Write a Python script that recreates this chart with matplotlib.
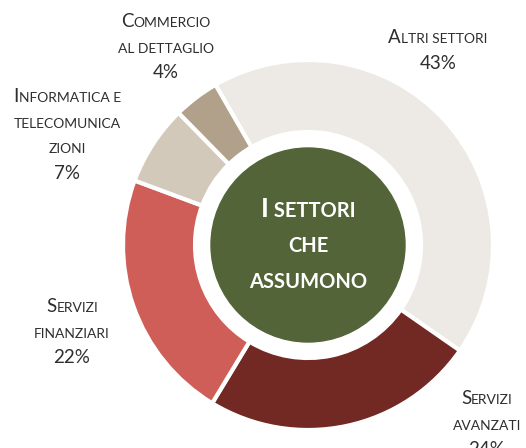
import matplotlib
matplotlib.use("Agg")
import matplotlib.pyplot as plt
from matplotlib.patches import Circle

# data
sectors = ["Altri settori", "Servizi avanzati", "Servizi finanziari",
           "Informatica e telecomunicazioni", "Commercio al dettaglio"]
shares = [43, 24, 22, 7, 4]
colors = ["#EDEAE5", "#722823", "#CF5E58", "#D3C9BA", "#B2A18A"]

# label lines as small caps: each line is a list of (text, big?) pieces
label_lines = [
    [[("A", True), ("LTRI SETTORI", False)]],
    [[("S", True), ("ERVIZI", False)], [("AVANZATI", False)]],
    [[("S", True), ("ERVIZI", False)], [("FINANZIARI", False)]],
    [[("I", True), ("NFORMATICA E", False)], [("TELECOMUNICA", False)], [("ZIONI", False)]],
    [[("C", True), ("OMMERCIO", False)], [("AL DETTAGLIO", False)]],
]
# label anchor (center x, first baseline y) in pixels from top-left
label_pos = [(438, 43), (487, 404), (72, 312), (67, 102), (166, 27)]

W, H = 526, 448
FONT = "Lato"
TXT = "#2E2E2E"

fig = plt.figure(figsize=(W / 100, H / 100), dpi=100)
ax = fig.add_axes([0, 0, 1, 1])

cx, cy = 308, H - 245
ax.pie(shares, colors=colors, startangle=120, counterclock=False,
       center=(cx, cy), radius=185,
       wedgeprops=dict(width=72, edgecolor="white", linewidth=3))
ax.add_patch(Circle((cx, cy), 97, color="#536438", zorder=3))

ax.set_xlim(0, W)
ax.set_ylim(0, H)
ax.set_aspect("equal")
ax.axis("off")

renderer = fig.canvas.get_renderer()


def smallcaps(x, y, pieces, big, small, color, weight="normal"):
    """Draw a line of fake small caps centred on x with its baseline at y."""
    arts = []
    for s, is_big in pieces:
        t = ax.text(0, y, s, fontsize=big if is_big else small, family=FONT,
                    color=color, weight=weight, ha="left", va="baseline", zorder=5)
        arts.append(t)
    widths = [a.get_window_extent(renderer).width for a in arts]
    left = x - sum(widths) / 2
    for a, w in zip(arts, widths):
        a.set_x(left)
        left += w


step = 25.5
for lines, (lx, ly), pct in zip(label_lines, label_pos, shares):
    for i, pieces in enumerate(lines):
        smallcaps(lx, H - (ly + i * step), pieces, 13.5, 10, TXT)
    ax.text(lx, H - (ly + len(lines) * step), f"{pct}%", fontsize=13.5,
            family=FONT, color=TXT, ha="center", va="baseline")

# centre title
center_lines = [[("I", True), (" SETTORI", False)], [("CHE", False)], [("ASSUMONO", False)]]
for pieces, by in zip(center_lines, [217, 252, 288]):
    smallcaps(cx, H - by, pieces, 19.5, 14.5, "white", weight="bold")

fig.savefig("out.png", dpi=100)
